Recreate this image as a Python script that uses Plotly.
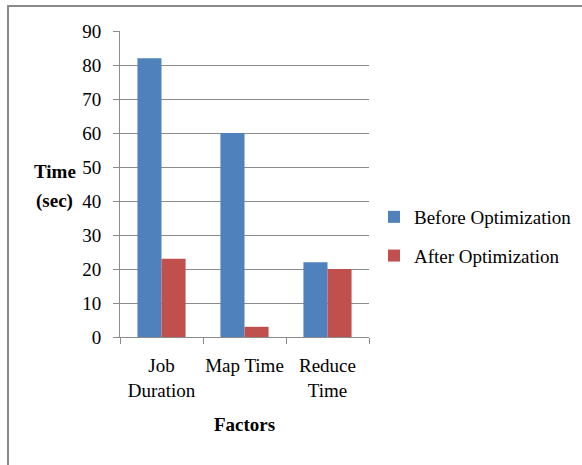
import plotly.graph_objects as go

categories = ["Job<br>Duration", "Map Time", "Reduce<br>Time"]
before_opt = [82, 60, 22]
after_opt = [23, 3, 20]
series_names = ["Before Optimization", "After Optimization"]
y_ticks = [0, 10, 20, 30, 40, 50, 60, 70, 80, 90]

FONT = "Liberation Serif, Times New Roman, serif"
FS = 19
GRID = "#8c8c8c"

W, H = 582, 465
L, R, T, B = 120, 582 - 369, 31, 465 - 337
pw, ph = W - L - R, H - T - B

def px_x(x):
    return (x - L) / pw

def px_y(y):
    return (H - B - y) / ph

fig = go.Figure()
fig.add_trace(go.Bar(x=categories, y=before_opt, name=series_names[0],
                     marker=dict(color="#4F81BD", line=dict(width=0)),
                     legendgroup="a"))
fig.add_trace(go.Bar(x=categories, y=after_opt, name=series_names[1],
                     marker=dict(color="#C0504D", line=dict(width=0)),
                     legendgroup="b"))

fig.update_layout(
    width=W, height=H,
    margin=dict(l=L, r=R, t=T, b=B, autoexpand=False),
    paper_bgcolor="white", plot_bgcolor="white",
    barmode="group", bargap=0.42, bargroupgap=0,
    font=dict(family=FONT, size=FS, color="black"),
    showlegend=True,
    legend=dict(x=px_x(374), y=px_y(198), xanchor="left", yanchor="top",
                font=dict(family=FONT, size=FS, color="black"),
                tracegroupgap=11, itemwidth=30, bgcolor="rgba(0,0,0,0)"),
    xaxis=dict(showline=True, linecolor=GRID, linewidth=1,
               ticks="outside", tickson="boundaries", ticklen=6, tickcolor=GRID,
               showgrid=False, tickfont=dict(family=FONT, size=FS),
               tickangle=0, automargin=False, ticklabelstandoff=11,
               fixedrange=True),
    yaxis=dict(range=[0, 90], tickvals=y_ticks, showline=True, linecolor=GRID,
               linewidth=1, ticks="outside", ticklen=6, tickcolor=GRID,
               showgrid=True, gridcolor=GRID, gridwidth=1, zeroline=False,
               tickfont=dict(family=FONT, size=FS), ticklabelstandoff=8,
               automargin=False, fixedrange=True),
)

# axis titles
fig.add_annotation(text="<b>Time</b>", x=px_x(55), y=px_y(171), xref="paper", yref="paper",
                   showarrow=False, font=dict(family=FONT, size=FS), xanchor="center", yanchor="middle")
fig.add_annotation(text="<b>(sec)</b>", x=px_x(54), y=px_y(201), xref="paper", yref="paper",
                   showarrow=False, font=dict(family=FONT, size=FS), xanchor="center", yanchor="middle")
fig.add_annotation(text="<b>Factors</b>", x=0.5, y=px_y(425), xref="paper", yref="paper",
                   showarrow=False, font=dict(family=FONT, size=FS), xanchor="center", yanchor="middle")

# outer chart border
fig.add_shape(type="rect", xref="paper", yref="paper",
              x0=px_x(8), y0=px_y(480), x1=px_x(600), y1=px_y(6),
              line=dict(color="#8a8a8a", width=2), fillcolor="rgba(0,0,0,0)", layer="below")

fig.write_html("out.html")
